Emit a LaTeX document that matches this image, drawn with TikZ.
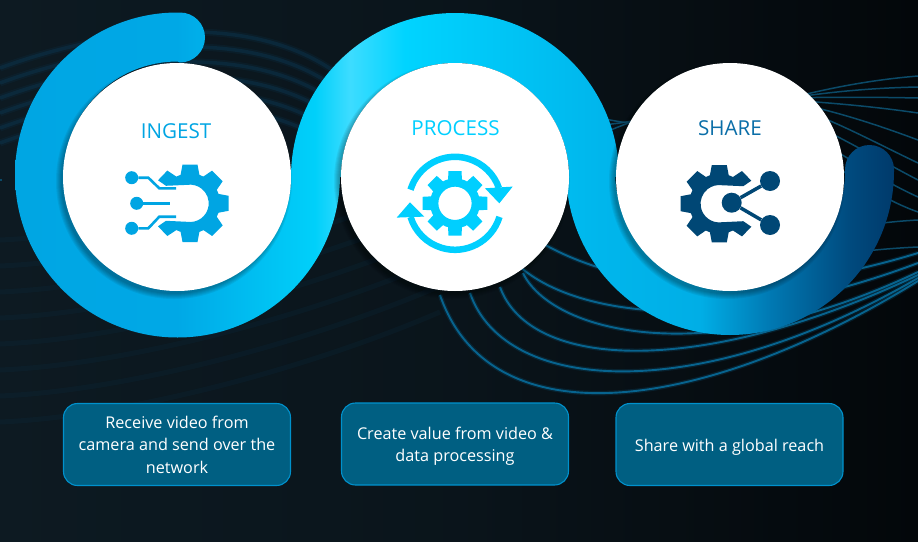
\documentclass[tikz,border=0pt]{standalone}
\usepackage{fontspec}
\setmainfont{Open Sans}
\usetikzlibrary{positioning,calc}

\definecolor{ringa}{HTML}{00A6E3}
\definecolor{ringb}{HTML}{00A8E6}
\definecolor{ringc}{HTML}{00D0FA}
\definecolor{ringd}{HTML}{3DDCFF}
\definecolor{ringe}{HTML}{00D4FF}
\definecolor{ringf}{HTML}{00B6EC}
\definecolor{ringg}{HTML}{00AEE6}
\definecolor{ringh}{HTML}{0079B3}
\definecolor{ringi}{HTML}{004A7E}
\definecolor{ringj}{HTML}{003A6B}
\definecolor{ingestblue}{HTML}{00A5E3}
\definecolor{processblue}{HTML}{00CFFF}
\definecolor{sharetitle}{HTML}{0A6EA8}
\definecolor{shareblue}{HTML}{004775}
\definecolor{boxfill}{HTML}{005F82}
\definecolor{boxline}{HTML}{0091CC}
\definecolor{bgleft}{HTML}{0D1A22}
\definecolor{bgright}{HTML}{03070A}
\definecolor{wavelow}{HTML}{07638E}
\definecolor{wavetop}{HTML}{0B4A68}
\definecolor{wavefaint}{HTML}{0A3650}

\pgfdeclarehorizontalshading{ringshade}{100bp}{
    color(0bp)=(ringa); color(25bp)=(ringa); color(34.2bp)=(ringb);
    color(42.07bp)=(ringc); color(44.05bp)=(ringd); color(47.18bp)=(ringe);
    color(58.3bp)=(ringf); color(63.97bp)=(ringg); color(67.95bp)=(ringh);
    color(72.5bp)=(ringi); color(75bp)=(ringj); color(100bp)=(ringj)}

% gear with an open mouth on its left side
\newcommand{\mouthgear}[1]{
    \fill[#1] (-24,17.5) -- (-32,23) -- (-22.7,32.7) -- (-13.6,26.7)
        arc (117:-117:30) -- (-22.7,-32.7) -- (-32,-23) -- (-24,-17.5) -- (-2.9,-18.5)
        arc (-99:99:18.7) -- cycle;
    \foreach \a in {-90,-45,0,45,90}
        \fill[#1, rotate=\a] (28,-9.5) -- (38.7,-7.5) -- (38.7,7.5) -- (28,9.5) -- cycle;
}
% one wave with a soft edge
\newcommand{\glowwave}[1]{
    \draw[wavelow, line width=4.5pt, opacity=.22] #1;
    \draw[wavelow, line width=1.9pt] #1;
}

\begin{document}
\begin{tikzpicture}[
    x=1pt, y=1pt,
    discnode/.style={circle, fill=white, minimum size=228pt, inner sep=0pt},
    titlenode/.style={font=\fontsize{20.6}{24}\selectfont, inner sep=0pt},
    textbox/.style={rectangle, draw=boxline, line width=1.1pt, fill=boxfill, rounded corners=14pt,
        minimum width=227pt, minimum height=82pt, inner sep=0pt},
    boxtext/.style={inner sep=0pt, text=white, align=center, font=\fontsize{16.2}{22.5}\selectfont},
    port/.style={circle, inner sep=0pt, minimum size=13pt},
    wavehigh/.style={wavetop, line width=1.5pt}
]
\useasboundingbox (0,0) rectangle (918,-541);

% Background
\shade[left color=bgleft, right color=bgright, middle color=bgleft!70!bgright] (0,0) rectangle (918,-541);

% Faint waves, left
\foreach \k in {0,...,5} {
    \draw[wavefaint, line width=7pt, opacity=.2, yshift=-\k*15] (0,-68) .. controls (90,-35) and (240,-5) .. (335,-72);
    \draw[wavefaint, line width=3.5pt, opacity=.45, yshift=-\k*15] (0,-68) .. controls (90,-35) and (240,-5) .. (335,-72);
}
\foreach \k in {0,...,7}
    \draw[wavefaint, line width=5pt, opacity=.16, yshift=-\k*26] (0,-240) .. controls (120,-235) and (300,-190) .. (440,-130);

% Waves, lower right
\glowwave{(440,-295) .. controls (490,-440) and (700,-415) .. (918,-281)}
\glowwave{(470,-293) .. controls (505,-395) and (700,-405) .. (918,-278)}
\glowwave{(500,-287) .. controls (530,-370) and (700,-378) .. (918,-275)}
\glowwave{(523,-273) .. controls (550,-330) and (700,-375) .. (918,-272)}
\glowwave{(505,-250) .. controls (545,-310) and (700,-345) .. (918,-263)}
\glowwave{(495,-205) .. controls (550,-270) and (700,-320) .. (918,-253)}
\draw[wavehigh] (700,-280) .. controls (780,-262) and (850,-250) .. (918,-247);
\draw[wavehigh] (800,-240) .. controls (840,-228) and (880,-222) .. (918,-220);

% Waves, upper right
\draw[wavehigh] (790,-98) .. controls (830,-88) and (870,-80) .. (918,-76);
\draw[wavehigh] (790,-98) .. controls (830,-92) and (870,-88) .. (918,-87);
\draw[wavehigh] (790,-98) .. controls (830,-97) and (870,-97) .. (918,-98);
\draw[wavehigh] (790,-100) .. controls (830,-103) and (870,-106) .. (918,-113);
\draw[wavehigh] (790,-102) .. controls (830,-110) and (870,-122) .. (918,-140);
\draw[wavehigh] (790,-106) .. controls (830,-118) and (870,-140) .. (918,-163);
\draw[wavehigh] (790,-115) .. controls (830,-130) and (870,-155) .. (918,-180);
\draw[wavehigh] (790,-125) .. controls (830,-145) and (870,-175) .. (918,-197);
\draw[wavehigh] (790,-135) .. controls (830,-160) and (870,-195) .. (918,-212);
\draw[wavehigh] (600,-135) .. controls (620,-125) and (650,-115) .. (680,-108);
\draw[wavehigh] (600,-125) .. controls (620,-124) and (650,-118) .. (680,-112);
\draw[wavehigh] (600,-118) .. controls (620,-122) and (650,-128) .. (680,-125);
\draw[wavehigh] (0,-180) -- (1.5,-180);

% Ring, one horizontal shading over the three arcs
\shade[shading=ringshade]
    (180,-12.5) -- (177.5,-12.5) arc (90:360:162.5) -- (291,-175) arc (360:90:113.5)
        -- (180,-62.5) arc (-90:90:25) -- cycle
    (619,-177) arc (0:180:164) -- (341,-177) arc (180:0:114) -- cycle
    (566,-171) arc (180:360:164) -- (894,-169.5) arc (0:180:24.5) -- (845,-171) arc (360:180:115) -- cycle;

% Shadows of the discs
\foreach \r in {113,114,...,118} {
    \fill[black, opacity=.06] (174,-181) circle (\r);
    \fill[black, opacity=.06] (452,-181) circle (\r);
    \fill[black, opacity=.06] (727,-181) circle (\r);
}

% Discs
\node[discnode] (ingestdisc) at (177,-177) {};
\node[discnode] (processdisc) at (455,-177) {};
\node[discnode] (sharedisc) at (730,-177) {};

% Titles
\node[titlenode, text=ingestblue] (ingesttitle) at (176,-131) {INGEST};
\node[titlenode, text=processblue] (processtitle) at (455.5,-128) {PROCESS};
\node[titlenode, text=sharetitle] (sharetitle) at (730,-128) {SHARE};

% Ingest icon
\begin{scope}[shift={(190,-203.3)}]
    \mouthgear{ingestblue}
\end{scope}
\node[port, fill=ingestblue] (inport1) at (131.7,-177.7) {};
\node[port, fill=ingestblue] (inport2) at (136.7,-203.3) {};
\node[port, fill=ingestblue] (inport3) at (131.7,-228.3) {};
\coordinate (inend1) at (176,-188.3);
\coordinate (inend2) at (170,-203.3);
\coordinate (inend3) at (176,-216.7);
\draw[ingestblue, line width=2.6pt] (inport1) -- (148.3,-177.7) -- (159.3,-188.3) -- (inend1);
\draw[ingestblue, line width=2.6pt] (inport2) -- (inend2);
\draw[ingestblue, line width=2.6pt] (inport3) -- (148.3,-228.3) -- (159.3,-216.7) -- (inend3);

% Process icon
\begin{scope}[shift={(455,-203.3)}]
    \draw[processblue, line width=8.3pt] (0,0) circle (20.8);
    \foreach \a in {0,45,...,315}
        \fill[processblue, rotate=\a] (23,-7) -- (32.3,-6.5) -- (32.3,6.5) -- (23,7) -- cycle;
    \draw[processblue, line width=6.5pt] (163:46.5) arc (163:19:46.5);
    \draw[processblue, line width=6.5pt] (-17:46.5) arc (-17:-163:46.5);
    \fill[processblue] (30,15) -- (57.7,16.7) -- (44.3,0) -- cycle;
    \fill[processblue] (-58.3,-14.3) -- (-30.7,-13.3) -- (-45,1) -- cycle;
\end{scope}

% Share icon
\begin{scope}[shift={(719.3,-203.7)}, xscale=-1]
    \mouthgear{shareblue}
\end{scope}
\node[circle, fill=shareblue, inner sep=0pt, minimum size=20pt] (shcentre) at (731.7,-202.7) {};
\node[circle, fill=shareblue, inner sep=0pt, minimum size=20pt] (shtop) at (770,-181) {};
\node[circle, fill=shareblue, inner sep=0pt, minimum size=20pt] (shbottom) at (770,-225) {};
\draw[shareblue, line width=3.5pt] (shcentre) -- (shtop);
\draw[shareblue, line width=3.5pt] (shcentre) -- (shbottom);

% Text boxes
\node[textbox] (ingestbox) at (177,-444.5) {};
\node[textbox] (processbox) at (455,-444) {};
\node[textbox] (sharebox) at (729.5,-444.5) {};
\node[boxtext] (ingesttext) at (177,-444.5) {Receive video from\\camera and send over the\\network};
\node[boxtext] (processtext) at (455,-446) {Create value from video \&\\data processing};
\node[boxtext] (sharetext) at (729.5,-447) {Share with a global reach};

\end{tikzpicture}
\end{document}
